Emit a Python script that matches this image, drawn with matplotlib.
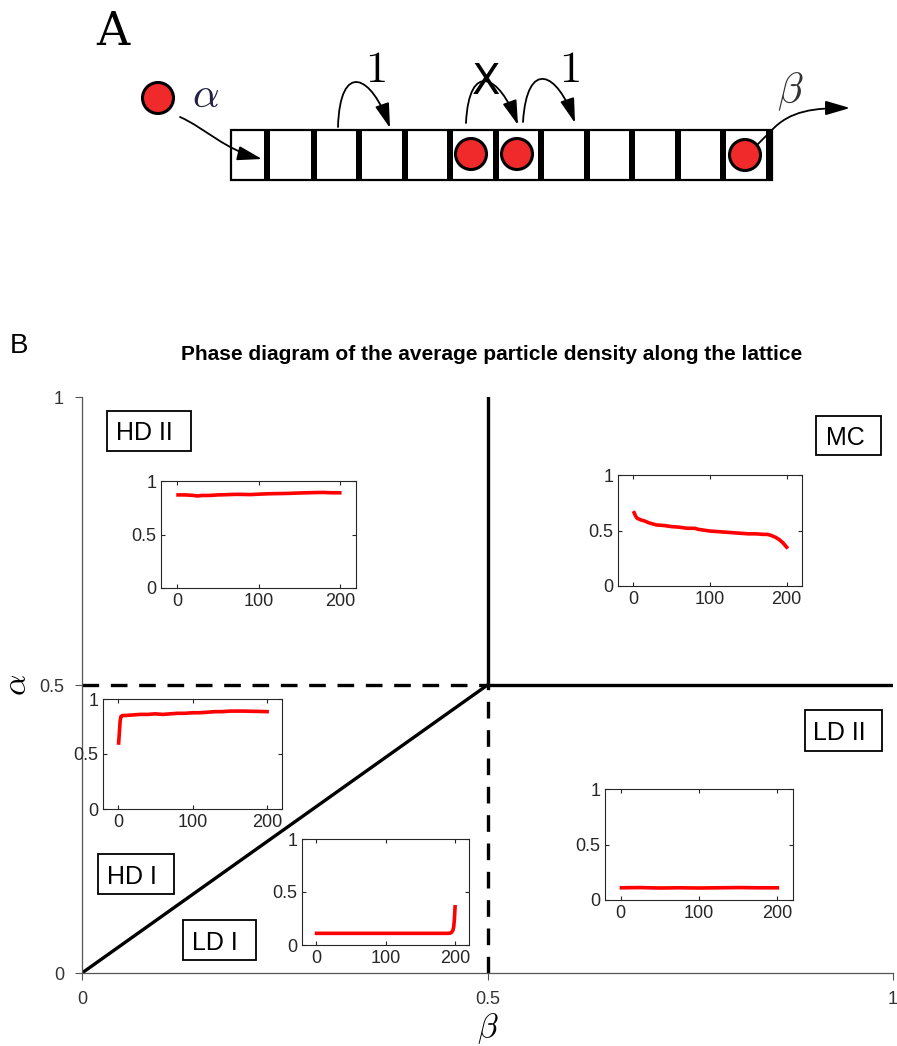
import numpy as np
import matplotlib
matplotlib.use('Agg')
import matplotlib.pyplot as plt
from matplotlib.patches import Rectangle, Circle, FancyArrowPatch
from matplotlib.path import Path

plt.rcParams['mathtext.fontset'] = 'cm'
plt.rcParams['font.family'] = ['Liberation Sans', 'DejaVu Sans']

W, H = 897, 1046

# ---- inset profiles: average density per lattice site
sites_hd2 = [1, 10, 20, 25, 30, 40, 50, 60, 70, 80, 90, 100, 110, 120, 130, 140, 150, 160, 170, 180, 190, 200]
rho_hd2 = [0.87, 0.87, 0.865, 0.86, 0.865, 0.865, 0.87, 0.872, 0.875, 0.875, 0.873, 0.877,
           0.88, 0.882, 0.883, 0.885, 0.888, 0.89, 0.892, 0.893, 0.89, 0.89]

sites_hd1 = [1, 2, 3, 4, 6, 10, 20, 30, 40, 50, 60, 70, 80, 90, 100, 110, 120, 130,
             140, 150, 160, 170, 180, 190, 200]
rho_hd1 = [0.60, 0.70, 0.80, 0.84, 0.85, 0.85, 0.855, 0.86, 0.86, 0.865, 0.86, 0.865, 0.87,
           0.87, 0.875, 0.875, 0.88, 0.885, 0.885, 0.89, 0.89, 0.89, 0.888, 0.887, 0.885]

sites_ld1 = [1, 20, 50, 100, 150, 180, 190, 193, 195, 197, 198, 199, 200]
rho_ld1 = [0.11, 0.11, 0.11, 0.11, 0.11, 0.11, 0.11, 0.112, 0.12, 0.14, 0.17, 0.24, 0.36]

sites_mc = [1, 3, 5, 10, 15, 20, 30, 40, 50, 60, 70, 80, 85, 90, 100, 110, 120, 130,
            140, 150, 160, 170, 175, 180, 185, 190, 195, 200]
rho_mc = [0.66, 0.63, 0.61, 0.595, 0.585, 0.57, 0.55, 0.545, 0.535, 0.53, 0.52, 0.52, 0.51,
          0.505, 0.495, 0.49, 0.485, 0.48, 0.475, 0.47, 0.47, 0.465, 0.465, 0.455, 0.44,
          0.42, 0.39, 0.35]

sites_ld2 = [1, 25, 50, 75, 100, 125, 150, 175, 200]
rho_ld2 = [0.11, 0.112, 0.108, 0.11, 0.108, 0.11, 0.112, 0.11, 0.11]

# ---- phase boundaries (beta, alpha)
diag_beta, diag_alpha = [0, 0.5], [0, 0.5]
mc_vert_beta, mc_vert_alpha = [0.5, 0.5], [0.5, 1]
mc_horz_beta, mc_horz_alpha = [0.5, 1], [0.5, 0.5]
dash_horz_beta, dash_horz_alpha = [0, 0.5], [0.5, 0.5]
dash_vert_beta, dash_vert_alpha = [0.5, 0.5], [0, 0.5]

phase_names = ['HD II', 'MC', 'LD II', 'HD I', 'LD I']

main_ticks = [0, 0.5, 1]
main_ticklabels = ['0', '0.5', '1']

# main axes frame in pixels
X0, X1, Y1, Y0 = 82, 893, 397, 973


def px_axes(l, r, t, b):
    return [l / W, (H - b) / H, (r - l) / W, (b - t) / H]


def bx(px):
    return (px - X0) / (X1 - X0)


def ay(py):
    return (Y0 - py) / (Y0 - Y1)


fig = plt.figure(figsize=(W / 100, H / 100), dpi=100)

#%% panel A : schematic of the lattice
axA = fig.add_axes([0, (H - 300) / H, 1, 300 / H])
axA.set_xlim(0, W)
axA.set_ylim(300, 0)
axA.axis('off')

red = '#f02a2a'
axA.add_patch(Rectangle((231, 130), 541, 50, fill=False, ec='k', lw=1.6))
for xs in [267, 314, 359, 405, 450, 496, 541, 587, 632, 678, 723, 769]:
    axA.add_patch(Rectangle((xs - 3, 130), 6, 50, fc='k', ec='none'))
for (cx, cy) in [(158, 98), (471, 154), (517, 154), (745, 155)]:
    axA.add_patch(Circle((cx, cy), 15.5, fc=red, ec='k', lw=2.2, zorder=3))

head = '-|>,head_length=0.75,head_width=0.22'


def curve(pts, **kw):
    p = Path(pts, [Path.MOVETO] + [Path.CURVE4] * 3)
    a = FancyArrowPatch(path=p, arrowstyle=head, mutation_scale=20, color='k', lw=1.3,
                        shrinkA=0, shrinkB=0, **kw)
    axA.add_patch(a)


curve([(180, 117), (205, 128), (225, 150), (262, 159)])
curve([(338, 127), (340, 60), (372, 75), (390, 128)])
curve([(466, 123), (469, 60), (500, 75), (518, 125)])
curve([(523, 122), (527, 58), (558, 72), (575, 123)])
axA.plot([757, 771], [145, 131], color='k', lw=1.3)
curve([(771, 131), (790, 110), (815, 108), (850, 108)])

axA.text(113, 32, 'A', fontsize=33, family='DejaVu Serif', ha='center', va='center')
axA.text(206, 96, r'$\alpha$', fontsize=30, color='#222244', ha='center', va='center')
axA.text(790, 92, r'$\beta$', fontsize=30, color='#333333', ha='center', va='center')
axA.text(375, 70, r'$1$', fontsize=32, ha='center', va='center')
axA.text(569, 71, r'$1$', fontsize=32, ha='center', va='center')
axA.text(486, 82, 'X', fontsize=30, family='DejaVu Sans', ha='center', va='center')

#%% panel B : phase diagram
fig.text(19 / W, 1 - 346 / H, 'B', fontsize=20, ha='center', va='center')
fig.text(492 / W, 1 - 354 / H, 'Phase diagram of the average particle density along the lattice',
         fontsize=15, fontweight='bold', ha='center', va='center')

ax = fig.add_axes(px_axes(X0, X1, Y1, Y0))
ax.plot(diag_beta, diag_alpha, 'k-', lw=2.4)
ax.plot(mc_vert_beta, mc_vert_alpha, 'k-', lw=2.4)
ax.plot(mc_horz_beta, mc_horz_alpha, 'k-', lw=2.4)
ax.plot(dash_horz_beta, dash_horz_alpha, 'k--', lw=2.4, dashes=(5, 3.5))
ax.plot(dash_vert_beta, dash_vert_alpha, 'k--', lw=2.4, dashes=(5, 3.5))
ax.set_xlim(0, 1)
ax.set_ylim(0, 1)
ax.set_xticks(main_ticks)
ax.set_xticklabels(main_ticklabels)
ax.set_yticks(main_ticks)
ax.set_yticklabels(main_ticklabels)
for s in ['top', 'right']:
    ax.spines[s].set_visible(False)
for s in ['left', 'bottom']:
    ax.spines[s].set_color('#555555')
    ax.spines[s].set_linewidth(0.9)
ax.tick_params(direction='out', length=5, color='#555555', labelcolor='#333333',
               labelsize=13, pad=8)
ax.set_xlabel(r'$\beta$', fontsize=24, labelpad=2)
ax.set_ylabel(r'$\alpha$', fontsize=24, labelpad=4, rotation=90)

# label boxes: (left, right, top, bottom, text centre x) in pixels
boxes = [(107, 191, 411, 451, 144), (816, 881, 416, 455, 845),
         (805, 882, 710, 751, 839), (98, 174, 854, 894, 132),
         (183, 256, 920, 960, 215)]
for name, (l, r, t, b, tx) in zip(phase_names, boxes):
    ax.add_patch(Rectangle((bx(l), ay(b)), bx(r) - bx(l), ay(t) - ay(b),
                           fc='white', ec='k', lw=1.3, zorder=4))
    ax.text(bx(tx), ay((t + b) / 2), name, fontsize=18, ha='center', va='center_baseline',
            zorder=5)

insets = [
    (px_axes(161, 356, 481, 588), sites_hd2, rho_hd2),
    (px_axes(103, 282, 699, 809), sites_hd1, rho_hd1),
    (px_axes(302, 469, 839, 945), sites_ld1, rho_ld1),
    (px_axes(618, 802, 475, 586), sites_mc, rho_mc),
    (px_axes(605, 793, 789, 900), sites_ld2, rho_ld2),
]
for rect, xs, ys in insets:
    ai = fig.add_axes(rect)
    ai.plot(xs, ys, color='red', lw=2.6)
    ai.set_xlim(-20, 220)
    ai.set_ylim(0, 1)
    ai.set_xticks([0, 100, 200])
    ai.set_yticks([0, 0.5, 1])
    ai.set_yticklabels(['0', '0.5', '1'])
    ai.tick_params(direction='in', length=3, top=True, right=True, labelsize=13,
                   labelcolor='#262626', color='#262626', width=0.8)
    for s in ai.spines.values():
        s.set_color('#262626')
        s.set_linewidth(0.8)

fig.savefig('out.png', dpi=100)
